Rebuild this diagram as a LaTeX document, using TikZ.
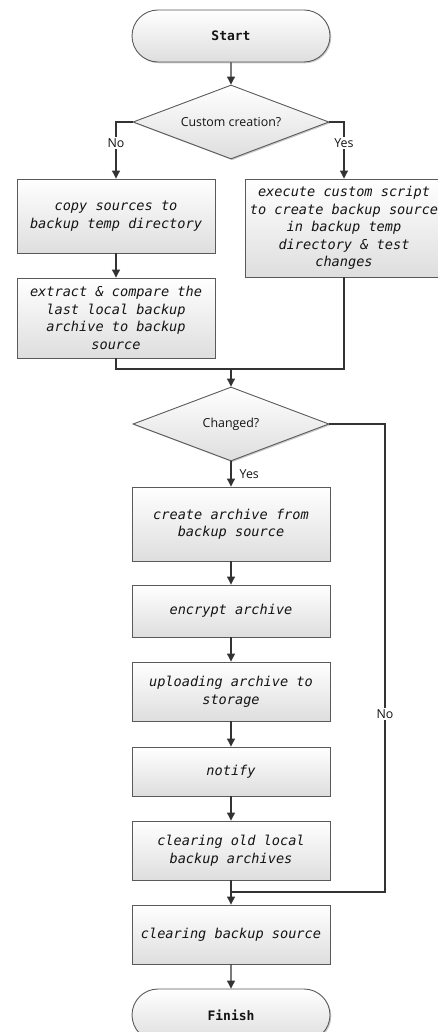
\documentclass[tikz,border=0pt]{standalone}
\usepackage{fontspec}
\setmainfont{Open Sans}
\newfontfamily\monofont{DejaVu Sans Mono}
\usetikzlibrary{shapes.geometric,shapes.misc,arrows.meta,shadows}
\definecolor{linec}{HTML}{333333}
\definecolor{borderc}{HTML}{5A5A5A}
\begin{document}
\begin{tikzpicture}[x=1pt,y=-1pt,
  shadowed/.style={drop shadow={shadow xshift=1.3pt,shadow yshift=-1.3pt,fill=black!45,opacity=0.45}},
  box/.style={shadowed,draw=borderc,line width=0.9pt,top color=white,bottom color=black!13,
    minimum width=198pt,align=center,inner sep=0pt,text=black!92,
    font=\monofont\itshape\fontsize{13.6}{17.5}\selectfont},
  term/.style={shadowed,rounded rectangle,draw=borderc,line width=0.9pt,top color=white,bottom color=black!13,
    minimum width=198pt,minimum height=52pt,inner sep=0pt,text=black!92,
    font=\monofont\bfseries\fontsize{13}{15}\selectfont},
  decision/.style={shadowed,diamond,aspect=2.6,draw=borderc,line width=0.9pt,top color=white,bottom color=black!13,
    minimum width=196pt,minimum height=74pt,inner sep=0pt,text=black!92,
    font=\fontsize{12.4}{14}\selectfont},
  conn/.style={draw=linec,line width=1.1pt},
  arr/.style={conn,-{Triangle[length=8pt,width=8pt]}},
  lbl/.style={font=\fontsize{12.4}{14}\selectfont,text=black!92,inner sep=1.5pt}
]
\useasboundingbox (0,0) rectangle (438,1032);
\clip (0,0) rectangle (438,1032);

\node[term] (start) at (231,36) {Start};
\node[decision] (d1) at (231,122) {Custom creation?};
\node[box,minimum height=74pt] (b1) at (116,216) {copy sources to\\backup temp directory};
\node[box,minimum height=80pt] (b3) at (116,318) {extract \& compare the\\last local backup\\archive to backup\\source};
\node[box,minimum height=98pt] (b2) at (344,228) {execute custom script\\to create backup source\\in backup temp\\directory \& test\\changes};
\coordinate (m1) at (231,369);
\node[decision] (d2) at (231,424) {Changed?};
\node[box,minimum height=74pt] (c1) at (231,524) {create archive from\\backup source};
\node[box,minimum height=52pt] (c2) at (231,611) {encrypt archive};
\node[box,minimum height=59pt] (c3) at (231,691.5) {uploading archive to\\storage};
\node[box,minimum height=49pt] (c4) at (231,771.5) {notify};
\node[box,minimum height=59pt] (c5) at (231,850.5) {clearing old local\\backup archives};
\coordinate (m2) at (231,892);
\coordinate (r) at (385,892);
\node[box,minimum height=59pt] (c6) at (231,934.5) {clearing backup source};
\node[term] (finish) at (231,1015) {Finish};

\draw[arr] (start) -- (d1);
\draw[arr] (d1.west) -| (b1.north);
\draw[arr] (d1.east) -| (b2.north);
\node[lbl,fill=white] (noa) at (116,143) {No};
\node[lbl,fill=white] (yesa) at (344,143) {Yes};
\draw[arr] (b1) -- (b3);
\draw[conn] (b3.south) |- (m1);
\draw[conn] (b2.south) |- (m1);
\draw[arr] (m1) -- (d2.north);
\draw[arr] (d2.south) -- (c1.north);
\node[lbl,anchor=west] (yesb) at (238,474) {Yes};
\draw[arr] (c1) -- (c2);
\draw[arr] (c2) -- (c3);
\draw[arr] (c3) -- (c4);
\draw[arr] (c4) -- (c5);
\draw[conn] (c5.south) -- (m2);
\draw[conn] (d2.east) -| (r) -- (m2);
\node[lbl,fill=white] (nob) at (385,714) {No};
\draw[arr] (m2) -- (c6.north);
\draw[arr] (c6) -- (finish);
\end{tikzpicture}
\end{document}
